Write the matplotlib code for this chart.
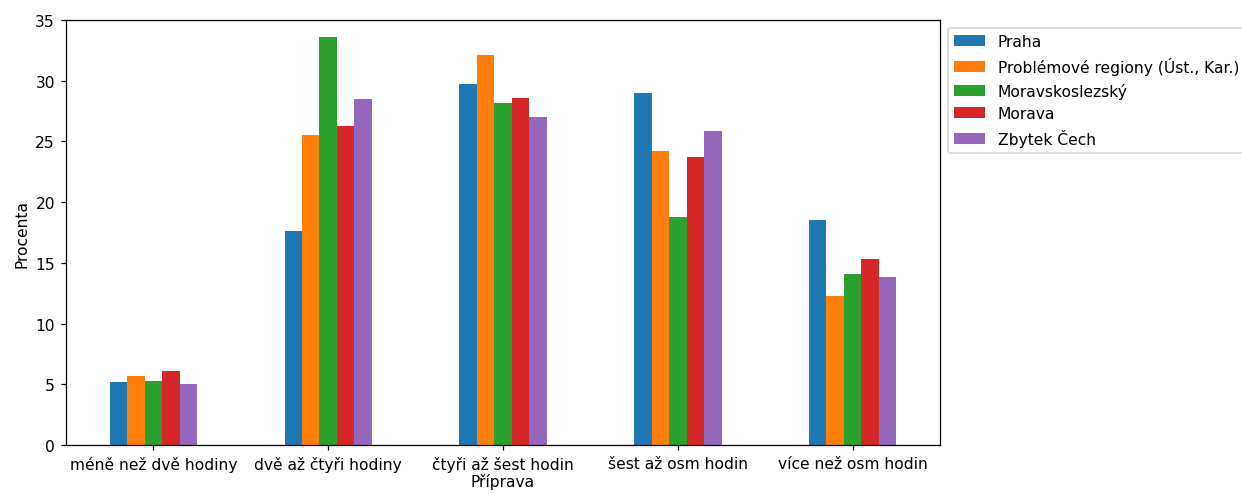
import numpy as np
import matplotlib
matplotlib.use("Agg")
import matplotlib.pyplot as plt

kategorie = ["méně než dvě hodiny", "dvě až čtyři hodiny", "čtyři až šest hodin",
             "šest až osm hodin", "více než osm hodin"]
regiony = ["Praha", "Problémové regiony (Úst., Kar.)", "Moravskoslezský",
           "Morava", "Zbytek Čech"]

praha = [5.2, 17.6, 29.7, 29.0, 18.5]
problemove = [5.7, 25.5, 32.1, 24.2, 12.3]
moravskoslezsky = [5.3, 33.6, 28.2, 18.8, 14.1]
morava = [6.1, 26.3, 28.6, 23.7, 15.3]
zbytek_cech = [5.0, 28.5, 27.0, 25.9, 13.8]

serie = [praha, problemove, moravskoslezsky, morava, zbytek_cech]

DPI = 112
fig = plt.figure(figsize=(1242 / DPI, 495 / DPI), dpi=DPI)
ax = fig.add_axes([66 / 1242, 1 - 446 / 495, (940 - 66) / 1242, (446 - 21) / 495])

x = np.arange(len(kategorie))
w = 0.1
for i, (vals, name) in enumerate(zip(serie, regiony)):
    ax.bar(x + (i - 2) * w, vals, width=w, label=name, color="C%d" % i)

ax.set_xlim(-0.5, len(kategorie) - 0.5)
ax.set_ylim(0, 35)
ax.set_xticks(x)
ax.set_xticklabels(kategorie, rotation=0)
ax.set_ylabel("Procenta")
ax.set_xlabel("Příprava", labelpad=1)
ax.legend(loc="upper left", bbox_to_anchor=(1, 1))

fig.savefig("out.png", dpi=DPI)
